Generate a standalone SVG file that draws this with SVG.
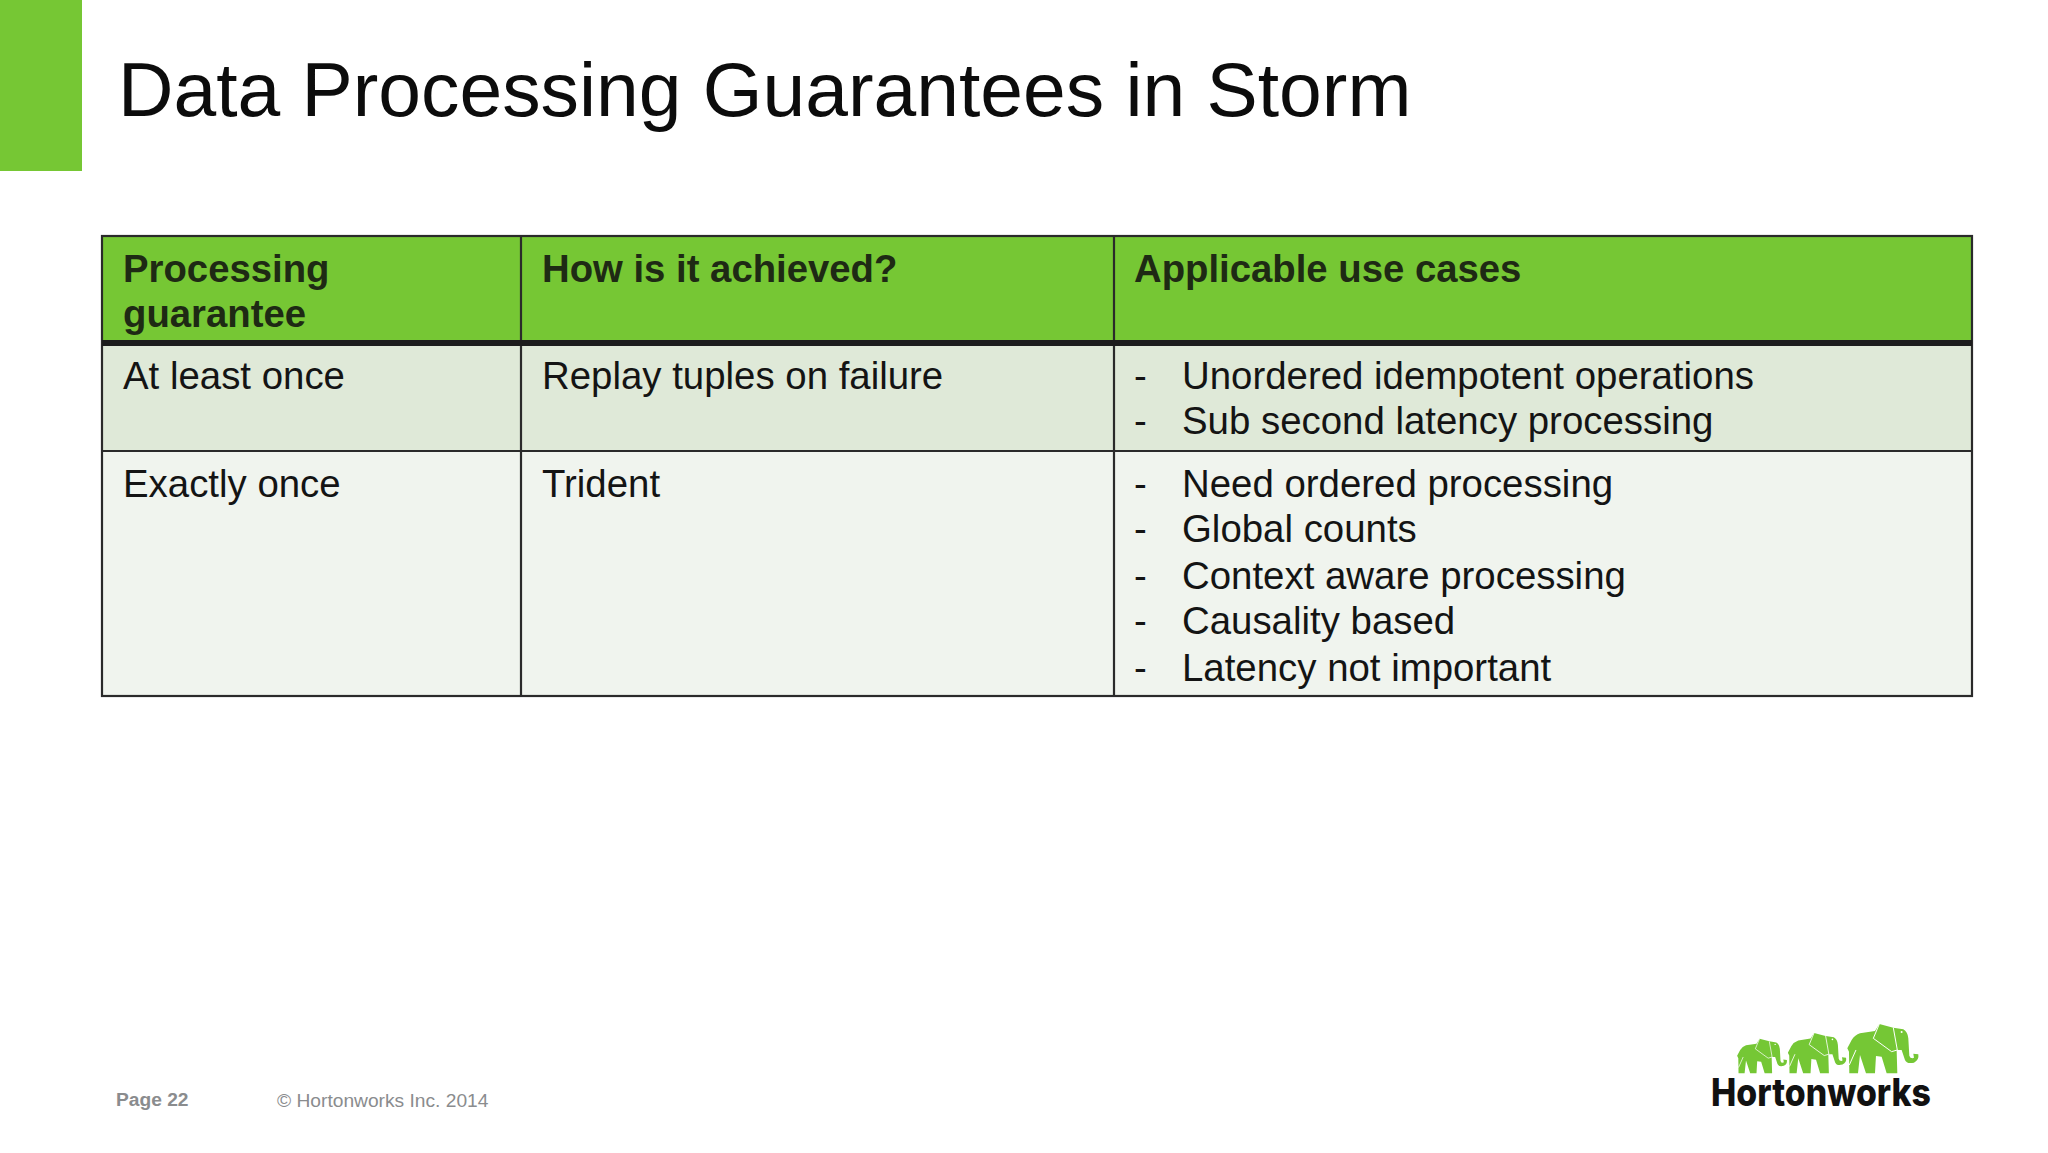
<svg xmlns="http://www.w3.org/2000/svg" width="2048" height="1153" viewBox="0 0 2048 1153">
<style>
text{font-family:"Liberation Sans",Arial,sans-serif}
.c{font-size:38.4px;fill:#141414}
.h{font-size:38.3px;font-weight:bold;fill:#1e2a14}
.l{stroke:#2a2a2a;stroke-width:2.2;fill:none}
.f{font-size:19.2px;fill:#8a8c8e}
</style>
<defs>
<g id="ele" transform="translate(480 45)">
<path fill="#75c735" d="M22 100L35 75Q45 60 60 55L105 48L118 27L160 38L190 43Q203 50 205 70L208 122Q210 130 218 130L222 128L220 116L235 118Q238 135 222 143Q200 148 195 135L185 105L170 105L172 175H140L125 125L108 123L105 175H78L60 120L54 175H28L27 110Z"/>
<path fill="none" stroke="#fff" stroke-width="3" d="M118 27L100 70L155 110L172 105L160 38M48 105L28 150"/>
<circle cx="185" cy="51" r="3" fill="#fff"/>
</g>
</defs>
<rect width="2048" height="1153" fill="#fff"/>
<rect id="accent" width="82" height="171" fill="#76c734"/>
<text id="title" x="118" y="116" font-size="76.8" fill="#0c0c0c">Data Processing Guarantees in Storm</text>
<g id="table">
<rect x="102" y="236" width="1870" height="107" fill="#76c734"/>
<rect x="102" y="343" width="1870" height="108" fill="#dfe9d8"/>
<rect x="102" y="451" width="1870" height="245" fill="#f0f4ee"/>
<rect class="l" x="102" y="236" width="1870" height="460"/>
<path class="l" d="M521 236V696M1114 236V696M102 451H1972"/>
<path d="M102 343H1972" stroke="#1c1c1c" stroke-width="6"/>
<text class="h" x="123" y="281.500">Processing</text>
<text class="h" x="123" y="327">guarantee</text>
<text class="h" x="542" y="281.500">How is it achieved?</text>
<text class="h" x="1134" y="281.500">Applicable use cases</text>
<text class="c" x="123" y="389">At least once</text>
<text class="c" x="542" y="389">Replay tuples on failure</text>
<text class="c" x="1134" y="389">-</text><text class="c" x="1182" y="389">Unordered idempotent operations</text>
<text class="c" x="1134" y="434">-</text><text class="c" x="1182" y="434">Sub second latency processing</text>
<text class="c" x="123" y="497">Exactly once</text>
<text class="c" x="542" y="497">Trident</text>
<text class="c" x="1134" y="497">-</text><text class="c" x="1182" y="497">Need ordered processing</text>
<text class="c" x="1134" y="542">-</text><text class="c" x="1182" y="542">Global counts</text>
<text class="c" x="1134" y="589">-</text><text class="c" x="1182" y="589">Context aware processing</text>
<text class="c" x="1134" y="634">-</text><text class="c" x="1182" y="634">Causality based</text>
<text class="c" x="1134" y="680.500">-</text><text class="c" x="1182" y="680.500">Latency not important</text>
</g>
<text id="page" class="f" x="116" y="1106" font-weight="bold">Page 22</text>
<text id="copyright" class="f" x="277" y="1107">© Hortonworks Inc. 2014</text>
<g id="logo">
<g transform="translate(1680 1000) scale(.3333)">
<use href="#ele"/>
<use href="#ele" transform="translate(322 220) scale(.82) translate(-500 -220)"/>
<use href="#ele" transform="translate(170 220) scale(.7) translate(-500 -220)"/>
</g>
<text x="1711" y="1106" font-size="38" font-weight="800" fill="#111" style="font-family:Inter,'Liberation Sans',sans-serif" textLength="220" lengthAdjust="spacingAndGlyphs">Hortonworks</text>
</g>
</svg>
